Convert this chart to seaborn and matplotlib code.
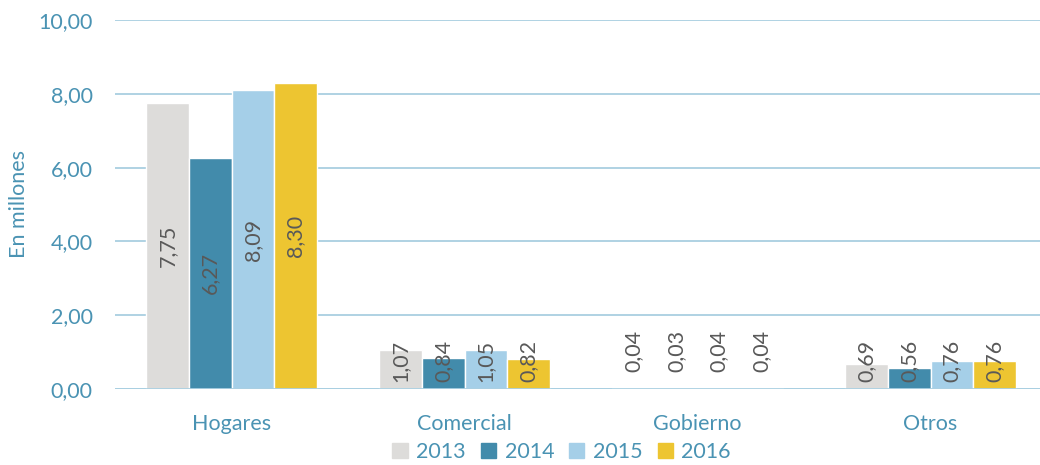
import pandas as pd
import matplotlib
matplotlib.use("Agg")
import matplotlib.pyplot as plt
import seaborn as sns

categorias = ["Hogares", "Comercial", "Gobierno", "Otros"]
anios = ["2013", "2014", "2015", "2016"]
v2013 = [7.75, 1.07, 0.04, 0.69]
v2014 = [6.27, 0.84, 0.03, 0.56]
v2015 = [8.09, 1.05, 0.04, 0.76]
v2016 = [8.30, 0.82, 0.04, 0.76]
colores = ["#DDDCDA", "#428BAB", "#A5CFE8", "#EDC531"]

filas = []
for anio, vals in zip(anios, [v2013, v2014, v2015, v2016]):
    for c, v in zip(categorias, vals):
        filas.append({"Sector": c, "Año": anio, "Valor": v})
data = pd.DataFrame(filas)

sns.set_style("white")
plt.rcParams['font.family'] = ['Lato', 'DejaVu Sans']

azul = "#4A93B3"
fs = 15.5
fig = plt.figure(figsize=(10.4, 4.65), dpi=100)
ax = fig.add_axes([115 / 1040, 76 / 465, 932 / 1040, 369 / 465])

sns.barplot(data=data, x="Sector", y="Valor", hue="Año", palette=colores,
            width=0.73, ax=ax, legend=True, saturation=1)

ax.set_ylim(0, 10)
ax.set_xlim(-0.5, 3.5)
ax.set_yticks([0, 2, 4, 6, 8, 10])
ax.set_yticklabels(["0,00", "2,00", "4,00", "6,00", "8,00", "10,00"])
ax.grid(axis="y", color="#A9CFE1", linewidth=1.3)
ax.set_axisbelow(True)
for s in ["top", "right", "left", "bottom"]:
    ax.spines[s].set_visible(False)
ax.axhline(0, color="#A9CFE1", linewidth=2, zorder=3)
ax.tick_params(axis="y", colors=azul, labelsize=fs, length=0, pad=16)
ax.tick_params(axis="x", colors=azul, labelsize=fs, length=0, pad=18)
ax.set_xlabel("")
ax.set_ylabel("En millones", color=azul, fontsize=fs, labelpad=7)

# etiquetas de datos
for cont in ax.containers:
    for barra in cont:
        v = barra.get_height()
        x = barra.get_x() + barra.get_width() / 2
        txt = f"{v:.2f}".replace(".", ",")
        if v > 2:
            ax.text(x, v / 2, txt, rotation=90, ha="center", va="center",
                    color="#595959", fontsize=fs)
        elif v > 0.3:
            ax.text(x, 0.2, txt, rotation=90, ha="center", va="bottom",
                    color="#595959", fontsize=fs)
        else:
            ax.text(x, 0.45, txt, rotation=90, ha="center", va="bottom",
                    color="#595959", fontsize=fs)

ax.legend_.remove()
handles = [plt.Rectangle((0, 0), 1, 1, color=c) for c in colores]
leg = fig.legend(handles, anios, loc="lower center", ncol=4, frameon=False,
                 bbox_to_anchor=(0.54, -0.035), fontsize=fs, handlelength=0.7,
                 handleheight=0.7, handletextpad=0.4, columnspacing=0.7)
for t in leg.get_texts():
    t.set_color(azul)

fig.savefig("out.png", dpi=100)
